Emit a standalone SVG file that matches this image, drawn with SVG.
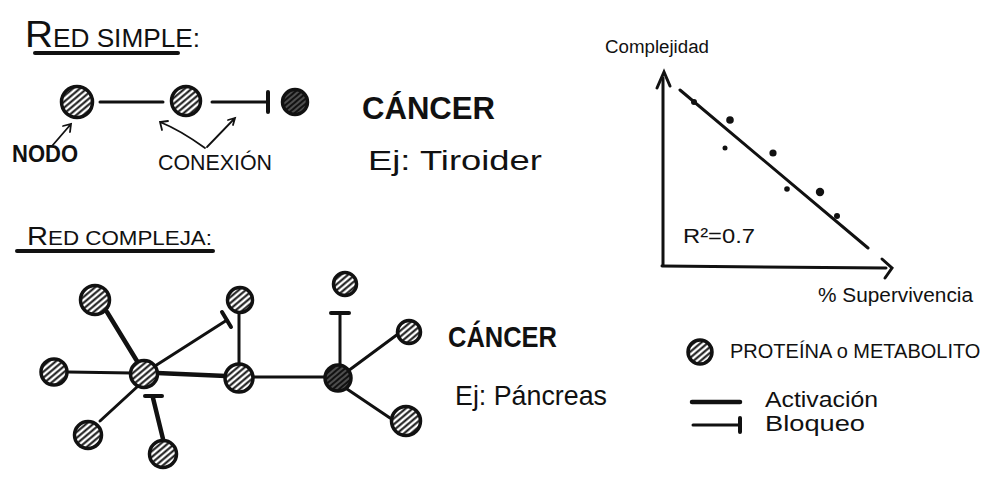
<svg xmlns="http://www.w3.org/2000/svg" width="1000" height="479" viewBox="0 0 1000 479">
<defs>
<pattern id="hatch" patternUnits="userSpaceOnUse" width="4.5" height="4.5" patternTransform="rotate(-40)">
<rect width="4.5" height="4.5" fill="#fff"/>
<line x1="0" y1="2.2" x2="4.5" y2="2.2" stroke="#111" stroke-width="2"/>
</pattern>
<pattern id="hatchDark" patternUnits="userSpaceOnUse" width="4" height="4" patternTransform="rotate(-40)">
<rect width="4" height="4" fill="#111"/>
<line x1="0" y1="2" x2="4" y2="2" stroke="#aaa" stroke-width="0.8"/>
</pattern>
<style>
.node{fill:url(#hatch);stroke:#111;stroke-width:3.5}
.dark{fill:url(#hatchDark);stroke:#111;stroke-width:3.5}
.edge{stroke:#111;stroke-width:3;fill:none;stroke-linecap:round}
.thick{stroke:#111;stroke-width:4.5;fill:none;stroke-linecap:round}
.bar{stroke:#111;stroke-width:4;fill:none;stroke-linecap:round}
.thin{stroke:#111;stroke-width:1.8;fill:none;stroke-linecap:round}
.t{font-family:"Liberation Sans",Arial,sans-serif;fill:#111}
</style>
</defs>
<rect width="1000" height="479" fill="#fff"/>

<!-- Titles -->
<g id="title-simple">
<text class="t" x="25" y="47" font-size="25" textLength="175" lengthAdjust="spacingAndGlyphs"><tspan font-size="37">R</tspan>ED SIMPLE:</text>
<line class="bar" x1="35" y1="53" x2="178" y2="53"/>
</g>
<g id="title-compleja">
<text class="t" x="27" y="245" font-size="20" textLength="185" lengthAdjust="spacingAndGlyphs"><tspan font-size="26">R</tspan>ED COMPLEJA:</text>
<line class="bar" x1="17" y1="251" x2="213" y2="251" stroke-width="3"/>
</g>

<!-- Simple network connectors -->
<g id="connectors-simple">
<line class="edge" x1="100" y1="102" x2="163" y2="102"/>
<line class="edge" x1="212" y1="102" x2="267" y2="102"/>
<line class="bar" x1="268" y1="92" x2="268" y2="112"/>
<path class="thin" d="M52 146 L71 124 M63 126 L71 124 L70 132"/>
<path class="thin" d="M205 148 Q180 130 160 122 M162 130 L160 122 L168 121"/>
<path class="thin" d="M207 147 L235 118 M228 120 L235 118 L233 125"/>
</g>
<g id="s-node1"><circle class="node" cx="77" cy="102" r="15.5"/></g>
<g id="s-node2"><circle class="node" cx="186" cy="101" r="14.5"/></g>
<g id="s-node3"><circle class="dark" cx="295" cy="102" r="12.5"/></g>
<g id="label-nodo"><text class="t" x="12" y="162" font-size="24" font-weight="bold" textLength="66" lengthAdjust="spacingAndGlyphs">NODO</text></g>
<g id="label-conexion"><text class="t" x="158" y="170" font-size="22" textLength="114" lengthAdjust="spacingAndGlyphs">CONEXIÓN</text></g>

<!-- Cancer labels -->
<g id="cancer-tiroides">
<text class="t" x="362" y="119" font-size="31" font-weight="bold" textLength="133" lengthAdjust="spacingAndGlyphs">CÁNCER</text>
<text class="t" x="368" y="170" font-size="28" textLength="174" lengthAdjust="spacingAndGlyphs">Ej: Tiroider</text>
</g>
<g id="cancer-pancreas">
<text class="t" x="448" y="347" font-size="30" font-weight="bold" textLength="109" lengthAdjust="spacingAndGlyphs">CÁNCER</text>
<text class="t" x="455" y="405" font-size="28" textLength="152" lengthAdjust="spacingAndGlyphs">Ej: Páncreas</text>
</g>

<!-- Complex network connectors -->
<g id="connectors-complex">
<line class="thick" x1="107" y1="312" x2="140" y2="366"/>
<line class="edge" x1="68" y1="372" x2="132" y2="373"/>
<line class="thick" x1="157" y1="373" x2="226" y2="376"/>
<line class="edge" x1="155" y1="366" x2="227" y2="320"/>
<line class="bar" x1="222" y1="312" x2="231" y2="327"/>
<line class="edge" x1="239" y1="313" x2="239" y2="364"/>
<line class="edge" x1="252" y1="377" x2="325" y2="377"/>
<line class="edge" x1="137" y1="387" x2="100" y2="421"/>
<line class="thick" x1="153" y1="398" x2="163" y2="439"/>
<line class="bar" x1="145" y1="396" x2="162" y2="396"/>
<line class="edge" x1="340" y1="315" x2="340" y2="365"/>
<line class="bar" x1="331" y1="313" x2="349" y2="313"/>
<line class="edge" x1="348" y1="371" x2="398" y2="334"/>
<line class="edge" x1="344" y1="387" x2="390" y2="418"/>
</g>
<g id="c-A"><circle class="node" cx="95" cy="300" r="14.5"/></g>
<g id="c-B"><circle class="node" cx="240" cy="300" r="12.5"/></g>
<g id="c-C"><circle class="node" cx="345" cy="284" r="11.5"/></g>
<g id="c-D"><circle class="node" cx="409" cy="332" r="11.5"/></g>
<g id="c-E"><circle class="node" cx="54" cy="372" r="13"/></g>
<g id="c-hub1"><circle class="node" cx="144" cy="374" r="13.5"/></g>
<g id="c-hub2"><circle class="node" cx="239" cy="378" r="14"/></g>
<g id="c-hub3"><circle class="dark" cx="338" cy="378" r="13"/></g>
<g id="c-F"><circle class="node" cx="88" cy="435" r="13.5"/></g>
<g id="c-G"><circle class="node" cx="163" cy="454" r="13.5"/></g>
<g id="c-H"><circle class="node" cx="406" cy="421" r="14.5"/></g>

<!-- Graph -->
<g id="chart">
<line class="edge" x1="663" y1="265" x2="663" y2="78"/>
<path class="edge" d="M657 88 L664 72 L670 86"/>
<line class="edge" x1="662" y1="266" x2="886" y2="268"/>
<path class="edge" d="M882 259 L892 268 L885 278"/>
<line class="edge" x1="680" y1="90" x2="868" y2="248" stroke-width="2.5"/>
<circle cx="694" cy="102" r="3" fill="#111"/>
<circle cx="730" cy="120" r="3.8" fill="#111"/>
<circle cx="725" cy="148" r="2.5" fill="#111"/>
<circle cx="773" cy="153" r="3.6" fill="#111"/>
<circle cx="787" cy="189" r="2.8" fill="#111"/>
<circle cx="820" cy="192" r="4.2" fill="#111"/>
<circle cx="837" cy="216" r="3" fill="#111"/>
<text class="t" x="605" y="53" font-size="18" textLength="104" lengthAdjust="spacingAndGlyphs">Complejidad</text>
<text class="t" x="818" y="302" font-size="20" textLength="155" lengthAdjust="spacingAndGlyphs">% Supervivencia</text>
<text class="t" x="683" y="243" font-size="20" textLength="72" lengthAdjust="spacingAndGlyphs">R²=0.7</text>
</g>

<!-- Legend -->
<g id="legend">
<circle class="node" cx="700" cy="352" r="12" fill="url(#hatchDark)"/>
<text class="t" x="730" y="358" font-size="20">PROTEÍNA o METABOLITO</text>
<line class="thick" x1="692" y1="402" x2="740" y2="402" stroke-width="5"/>
<line class="edge" x1="693" y1="425" x2="740" y2="425" stroke-width="2.5"/>
<line class="bar" x1="740" y1="418" x2="740" y2="432" stroke-width="3"/>
<text class="t" x="765" y="407" font-size="22" textLength="113" lengthAdjust="spacingAndGlyphs">Activación</text>
<text class="t" x="765" y="431" font-size="22" textLength="100" lengthAdjust="spacingAndGlyphs">Bloqueo</text>
</g>
</svg>
